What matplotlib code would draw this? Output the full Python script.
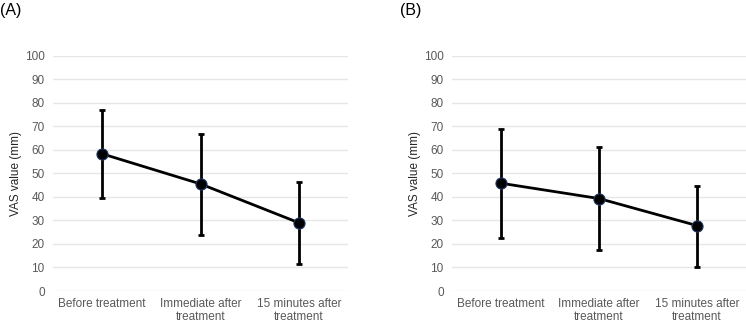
import matplotlib
matplotlib.use("Agg")
import matplotlib.pyplot as plt
import numpy as np

plt.rcParams["font.family"] = ["Liberation Sans", "DejaVu Sans"]

categories = ["Before treatment", "Immediate after\ntreatment", "15 minutes after\ntreatment"]

# panel A: mean with lower/upper error-bar ends (mm)
a_mean = [58.3, 45.5, 29.0]
a_low = [39.5, 23.9, 11.6]
a_high = [76.9, 66.9, 46.2]

# panel B
b_mean = [45.8, 39.3, 27.8]
b_low = [22.4, 17.6, 10.2]
b_high = [68.9, 61.1, 44.8]

W, H = 746, 322
fig = plt.figure(figsize=(W / 100, H / 100), dpi=100)

ax_a = fig.add_axes([53 / W, 1 - 291 / H, 295 / W, 235.3 / H])
ax_b = fig.add_axes([452 / W, 1 - 291 / H, 294 / W, 235.3 / H])


def draw(ax, mean, low, high):
    x = np.arange(len(categories)) + 0.5
    mean = np.asarray(mean); low = np.asarray(low); high = np.asarray(high)
    yerr = [mean - low, high - mean]
    ax.errorbar(x, mean, yerr=yerr, fmt="none", ecolor="black",
                elinewidth=2, capsize=2, capthick=2, zorder=3)
    ax.plot(x, mean, "-", color="black", lw=2, zorder=4)
    ax.plot(x, mean, "o", ms=8, mfc="black", mec="#1f3864", mew=0.8, zorder=5)
    ax.set_xlim(0, 3)
    ax.set_ylim(0, 100)
    ax.set_yticks(np.arange(0, 101, 10))
    ax.set_xticks(x)
    ax.set_xticklabels(categories, linespacing=1.15)
    ax.grid(axis="y", color="#e6e6e6", lw=1)
    ax.set_axisbelow(True)
    for s in ax.spines.values():
        s.set_visible(False)
    ax.tick_params(length=0, labelsize=8.5, labelcolor="#595959", pad=5)
    ax.tick_params(axis="y", pad=6)
    ax.set_ylabel("VAS value (mm)", fontsize=8.5, color="#262626", labelpad=2)


draw(ax_a, a_mean, a_low, a_high)
draw(ax_b, b_mean, b_low, b_high)

fig.text(0 / W, 1 - 3 / H, "(A)", fontsize=11.5, va="top", ha="left")
fig.text(400 / W, 1 - 3 / H, "(B)", fontsize=11.5, va="top", ha="left")

fig.savefig("out.png", dpi=100)
